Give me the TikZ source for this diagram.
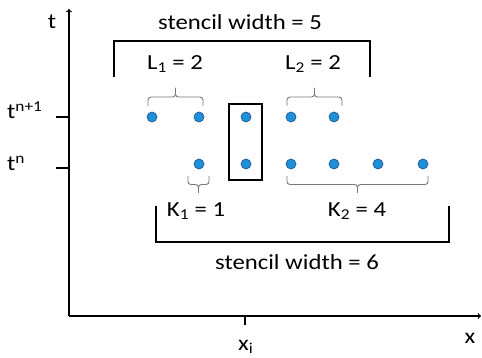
\documentclass[tikz,border=0pt]{standalone}
\usepackage{fontspec}
\setmainfont{Carlito}[FakeStretch=1.15]
\usetikzlibrary{calc}

\definecolor{dotblue}{RGB}{30,144,215}
\definecolor{dotedge}{RGB}{35,90,150}
\definecolor{bracegray}{RGB}{120,120,120}

% small gray brace between two named points, #3 = height of one step
\newcommand{\gbrace}[3]{%
  \draw[gbr] (#1) -- ++(0,#3) -| ($(#1)!0.5!(#2)+(0,2*#3)$);
  \draw[gbr] (#2) -- ++(0,#3) -| ($(#1)!0.5!(#2)+(0,2*#3)$);
}

\begin{document}
\begin{tikzpicture}[x=1pt, y=-1pt,
  dot/.style={circle, fill=dotblue, draw=dotedge, line width=0.7pt, inner sep=0pt, minimum size=10pt},
  lbl/.style={font=\fontsize{21.5}{24}\selectfont, inner sep=0pt},
  bracket/.style={line width=2pt},
  gbr/.style={draw=bracegray, line width=0.9pt, rounded corners=3pt},
  axis/.style={line width=1.2pt, ->}]
  \useasboundingbox (0,0) rectangle (482,358);

  % Axes
  \coordinate (O) at (69,316);
  \coordinate (ytop) at (69,9);
  \coordinate (xend) at (481,316);
  \draw[axis] (O) -- (ytop);
  \draw[axis] (O) -- (xend);
  \node[lbl, anchor=base] (tlab) at (52,29) {t};
  \node[lbl, anchor=base] (xlab) at (470,343) {x};

  % Time levels
  \coordinate (tn1) at (56,117);
  \coordinate (tn) at (56,168);
  \draw[line width=1.2pt] (tn1) -- (tn1 -| O);
  \draw[line width=1.2pt] (tn) -- (tn -| O);
  \node[lbl, anchor=base west] (tn1lab) at (7,119) {t\textsuperscript{n+1}};
  \node[lbl, anchor=base west] (tnlab) at (7,171) {t\textsuperscript{n}};

  % Point x_i
  \coordinate (xi) at (245,325);
  \draw[line width=1.2pt] (xi) -- (xi |- O);
  \node[lbl, anchor=base west] (xilab) at (238,350) {x\textsubscript{i}};

  % Stencil points
  \foreach \x [count=\k] in {152,199,246,291,334}
    \node[dot] (u\k) at (\x,117) {};
  \foreach \x [count=\k] in {199,246,291,334,378,423}
    \node[dot] (d\k) at (\x,164) {};

  % Centre column
  \draw[line width=2pt] (229,104) rectangle (262,180);

  % Upper stencil
  \draw[bracket] (114,77) -- (114,41) -- (370,41) -- (370,77);
  \node[lbl] (sw5) at (240,22) {stencil width = 5};
  \coordinate (l1a) at (148,106);
  \coordinate (l1b) at (203,106);
  \coordinate (l2a) at (287,106);
  \coordinate (l2b) at (342,106);
  \gbrace{l1a}{l1b}{-9}
  \gbrace{l2a}{l2b}{-9}
  \node[lbl] (L1) at (175,64) {L\textsubscript{1} = 2};
  \node[lbl] (L2) at (313,64) {L\textsubscript{2} = 2};

  % Lower stencil
  \coordinate (k1a) at (188,176);
  \coordinate (k1b) at (209,176);
  \coordinate (k2a) at (287,176);
  \coordinate (k2b) at (428,176);
  \gbrace{k1a}{k1b}{8.5}
  \gbrace{k2a}{k2b}{8.5}
  \node[lbl] (K1) at (196,211) {K\textsubscript{1} = 1};
  \node[lbl] (K2) at (357,211) {K\textsubscript{2} = 4};
  \draw[bracket] (156,206) -- (156,242) -- (449,242) -- (449,206);
  \node[lbl] (sw6) at (297,262) {stencil width = 6};
\end{tikzpicture}
\end{document}
